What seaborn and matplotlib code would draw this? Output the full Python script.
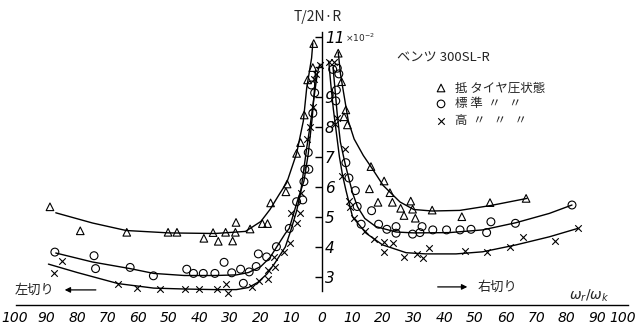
import pandas as pd
import seaborn as sns
import matplotlib.pyplot as plt
import matplotlib.transforms as mtransforms

# x = ωr/ωk (左切り は負の値), y = T/2N·R (x10^-2)
# 低タイヤ圧 (△)
low_x = [-88.9, -79, -63.8, -50.3, -47.4, -38.6, -35.6, -33.9, -31.5, -29.2, -28.1, -28.3,
         -23.5, -19.5, -17.8, -16.8, -11.8, -11.4, -8.3, -7, -5.8, -4.7, -3.0, -2.7,
         5.3, 6.4, 7.8, 7.2, 8.3, 16.0, 20.3, 15.5, 22.2, 18.3, 23.0, 25.7, 26.8, 29.0,
         29.6, 30.5, 36.0, 45.7, 54.9, 66.7]
low_y = [5.34, 4.54, 4.49, 4.49, 4.49, 4.29, 4.48, 4.19, 4.49, 4.2, 4.82, 4.49,
         4.6, 4.78, 4.78, 5.47, 5.84, 6.1, 7.12, 7.48, 8.4, 9.57, 9.98, 10.78,
         10.46, 9.51, 8.57, 8.34, 8.07, 6.68, 6.2, 5.94, 5.81, 5.49, 5.49, 5.29, 5.05, 5.53,
         5.26, 4.96, 5.23, 5.01, 5.48, 5.62]

# 標準タイヤ圧 (○)
std_x = [-87.3, -74.5, -74, -62.7, -55.1, -44.2, -42, -38.8, -35, -32, -29.5, -26.6,
         -25.7, -23.8, -21.5, -20.8, -18.1, -14.9, -10.7, -8.3, -6.3, -5.9, -5.6, -4.3,
         -4.5, -3.0, -2.4, -3.5,
         3.5, 5.0, 5.5, 4.7, 4.5, 7.8, 8.8, 10.9, 11.5, 12.8, 16.2, 18.5, 21.2, 24.2,
         24.2, 29.6, 32, 32.7, 36.2, 40.7, 45.1, 48.7, 53.8, 55.2, 63.2, 81.7]
std_y = [3.83, 3.71, 3.28, 3.32, 3.04, 3.26, 3.12, 3.12, 3.12, 3.49, 3.14, 3.26,
         2.79, 3.17, 3.35, 3.77, 3.67, 4.01, 4.62, 5.51, 5.57, 6.18, 6.59, 6.59,
         7.15, 8.46, 9.14, 9.4,
         9.92, 9.96, 9.77, 9.23, 8.87, 6.81, 6.3, 5.88, 5.35, 4.76, 5.21, 4.76, 4.59, 4.68,
         4.46, 4.43, 4.48, 4.68, 4.57, 4.57, 4.57, 4.59, 4.48, 4.84, 4.79, 5.4]

# 高タイヤ圧 (×)
high_x = [-87.6, -85.1, -66.6, -60.6, -52.9, -44.8, -40.1, -34.4, -31.4, -30.6, -23.0, -20.5,
          -17.5, -17.6, -15.5, -15.7, -12.4, -10.6, -10.2, -8.3, -7.1, -7, -5, -3.8,
          -2.9, -2.6, -1.8, -0.7,
          2.3, 3.8, 4.8, 4.3, 7.4, 6.5, 8.8, 9.2, 10.6, 14.1, 17.0, 20.4, 23.3, 20.2,
          26.9, 30.9, 33.1, 34.9, 46.8, 53.8, 61.4, 65.8, 76.3, 83.6]
high_y = [3.14, 3.54, 2.76, 2.64, 2.61, 2.61, 2.61, 2.6, 2.76, 2.48, 2.67, 2.87,
          2.94, 3.25, 3.33, 3.68, 3.82, 4.15, 5.15, 4.79, 5.15, 5.79, 7.6, 8.0,
          8.65, 9.6, 9.78, 10.05,
          10.18, 10.15, 8.3, 8.1, 7.28, 6.36, 5.55, 5.33, 4.96, 4.54, 4.27, 4.16, 4.12, 3.84,
          3.66, 3.77, 3.62, 3.96, 3.88, 3.84, 4.01, 4.32, 4.21, 4.62]

# 手書きの曲線 (左, 右)
low_curve_l_x = [-87, -75, -64, -50, -35, -25, -20, -17, -14, -11.5, -8.3, -6.1, -5, -3.4, -3.0]
low_curve_l_y = [5.14, 4.8, 4.55, 4.47, 4.45, 4.52, 4.85, 5.25, 5.75, 6.15, 7.12, 8.2, 9.3, 10.3, 10.8]
low_curve_r_x = [5.3, 6.0, 6.8, 8.6, 10.5, 13.5, 16.5, 20, 25.5, 30, 36, 45, 55, 67]
low_curve_r_y = [10.5, 9.8, 9.3, 8.2, 7.6, 7.05, 6.6, 6.05, 5.5, 5.25, 5.2, 5.22, 5.38, 5.62]

std_curve_l_x = [-87, -75, -62.7, -55, -45, -35, -28, -24, -20, -17, -14.5, -12, -10.7,
                 -8.3, -5.9, -4.5, -3.2, -2.5, -2.1]
std_curve_l_y = [3.8, 3.5, 3.28, 3.12, 3.05, 3.05, 3.07, 3.15, 3.35, 3.65, 4.05, 4.45, 4.62,
                 5.45, 6.2, 7.1, 8.3, 9.2, 9.9]
std_curve_r_x = [3.6, 4.3, 5.0, 6.0, 7.5, 8.9, 10, 11.6, 14, 17.6, 24.2, 30, 41.6, 52.5,
                 63.4, 74.3, 81.7]
std_curve_r_y = [10.0, 9.2, 8.4, 7.5, 6.8, 6.23, 5.8, 5.34, 4.95, 4.68, 4.5, 4.47, 4.48, 4.57,
                 4.81, 5.12, 5.4]

high_curve_l_x = [-89.4, -80, -66.6, -55, -45, -35, -28, -24, -21, -18, -15.5, -12, -10.2,
                  -8.3, -7, -5, -3.8, -2.6, -1.5, -0.7]
high_curve_l_y = [3.43, 3.15, 2.78, 2.63, 2.6, 2.58, 2.58, 2.65, 2.82, 3.1, 3.45, 4.0, 4.55,
                  5.2, 5.8, 7.3, 8.1, 9.0, 9.8, 10.1]
high_curve_r_x = [2.2, 2.9, 3.7, 4.7, 5.7, 6.7, 7.8, 10, 14.4, 19.8, 27.5, 34, 43.8, 52.5,
                  63.4, 74.3, 83.6]
high_curve_r_y = [10.2, 9.4, 8.6, 7.8, 7.0, 6.4, 5.9, 5.0, 4.46, 4.07, 3.81, 3.77, 3.77, 3.84,
                  4.07, 4.34, 4.62]

x_ticks = list(range(-100, 101, 10))
y_ticks = [3, 4, 5, 6, 7, 8, 9, 10, 11]
y_tick_labels = ['3', '4', '5', '6', '7', '8', '9', '', '11']  # 10 は測定点に隠れている
legend_labels = ['抵 タイヤ圧状態', '標 準  〃   〃', '高  〃   〃   〃']

sns.set_style('white')
plt.rcParams['font.family'] = ['Noto Sans CJK JP', 'DejaVu Sans']

fig = plt.figure(figsize=(6.36, 3.26), dpi=100)
ax = fig.add_axes([16 / 636, 21 / 326, 612 / 636, 275 / 326])

# 曲線
curves = [(low_curve_l_x, low_curve_l_y), (low_curve_r_x, low_curve_r_y),
          (std_curve_l_x, std_curve_l_y), (std_curve_r_x, std_curve_r_y),
          (high_curve_l_x, high_curve_l_y), (high_curve_r_x, high_curve_r_y)]
for cx, cy in curves:
    sns.lineplot(x=cx, y=cy, sort=False, estimator=None, color='black', lw=1.0, ax=ax)

# 測定点
sns.scatterplot(x=low_x, y=low_y, marker='^', s=30, facecolor='none', edgecolor='black',
                linewidth=0.8, ax=ax, clip_on=False)
sns.scatterplot(x=std_x, y=std_y, marker='o', s=32, facecolor='none', edgecolor='black',
                linewidth=0.8, ax=ax, clip_on=False)
sns.scatterplot(x=high_x, y=high_y, marker='x', s=22, color='black',
                linewidth=0.8, ax=ax, clip_on=False)

ax.set_xlim(-100, 100)
ax.set_ylim(2.067, 11.233)

# 軸
ax.spines['left'].set_visible(False)
ax.spines['top'].set_visible(False)
ax.spines['right'].set_position(('data', 0))
ax.spines['right'].set_bounds(2.55, 11.15)
ax.spines['bottom'].set_bounds(-100, 100)
for s in ['right', 'bottom']:
    ax.spines[s].set_color('black')
    ax.spines[s].set_linewidth(1.0)

ax.yaxis.tick_right()
ax.set_yticks(y_ticks)
ax.set_yticklabels(y_tick_labels, fontsize=11, style='italic',
                   family='Liberation Sans Narrow')
ax.tick_params(axis='y', direction='in', length=5, width=1, pad=2, colors='black')

ax.set_xticks(x_ticks)
ax.set_xticklabels([str(abs(v)) for v in x_ticks], fontsize=10, style='italic',
                   family='Liberation Sans Narrow')
ax.tick_params(axis='x', direction='in', length=6, width=1, pad=4, colors='black')
last = ax.get_xticklabels()[-1]
last.set_horizontalalignment('right')
last.set_transform(last.get_transform() + mtransforms.ScaledTranslation(8 / 100, 0, fig.dpi_scale_trans))
first = ax.get_xticklabels()[0]
first.set_horizontalalignment('left')
first.set_transform(first.get_transform() + mtransforms.ScaledTranslation(-15 / 100, 0, fig.dpi_scale_trans))
ax.set_xlabel('')
ax.set_ylabel('')

# ラベル
ax.text(-1.3, 11.67, 'T/2N·R', ha='center', va='center', fontsize=10)
ax.text(7.5, 10.97, r'$\times10^{-2}$', ha='left', va='center', fontsize=6.5)
ax.text(24.5, 10.3, 'ベンツ 300SL-R', ha='left', va='center', fontsize=9.5)

legend_marks = ['^', 'o', 'x']
legend_ys = [9.3, 8.77, 8.2]
for m, ly, lab in zip(legend_marks, legend_ys, legend_labels):
    if m == 'x':
        ax.scatter([38.9], [ly], marker=m, s=22, color='black', linewidth=0.8)
    else:
        ax.scatter([38.9], [ly], marker=m, s=30, facecolor='none', edgecolor='black',
                   linewidth=0.8)
    ax.text(43.5, ly, lab, ha='left', va='center', fontsize=9)

ax.text(-100.3, 2.57, '左切り', ha='left', va='center', fontsize=9.5)
ax.annotate('', xy=(-85, 2.57), xytext=(-73, 2.57),
            arrowprops=dict(arrowstyle='-|>', color='black', lw=0.9, mutation_scale=8))
ax.annotate('', xy=(48.4, 2.67), xytext=(36.9, 2.67),
            arrowprops=dict(arrowstyle='-|>', color='black', lw=0.9, mutation_scale=8))
ax.text(51, 2.67, '右切り', ha='left', va='center', fontsize=9.5)
ax.text(80.6, 2.37, r'$\omega_r/\omega_k$', ha='left', va='center', fontsize=10)

fig.savefig('out.png', dpi=100)
